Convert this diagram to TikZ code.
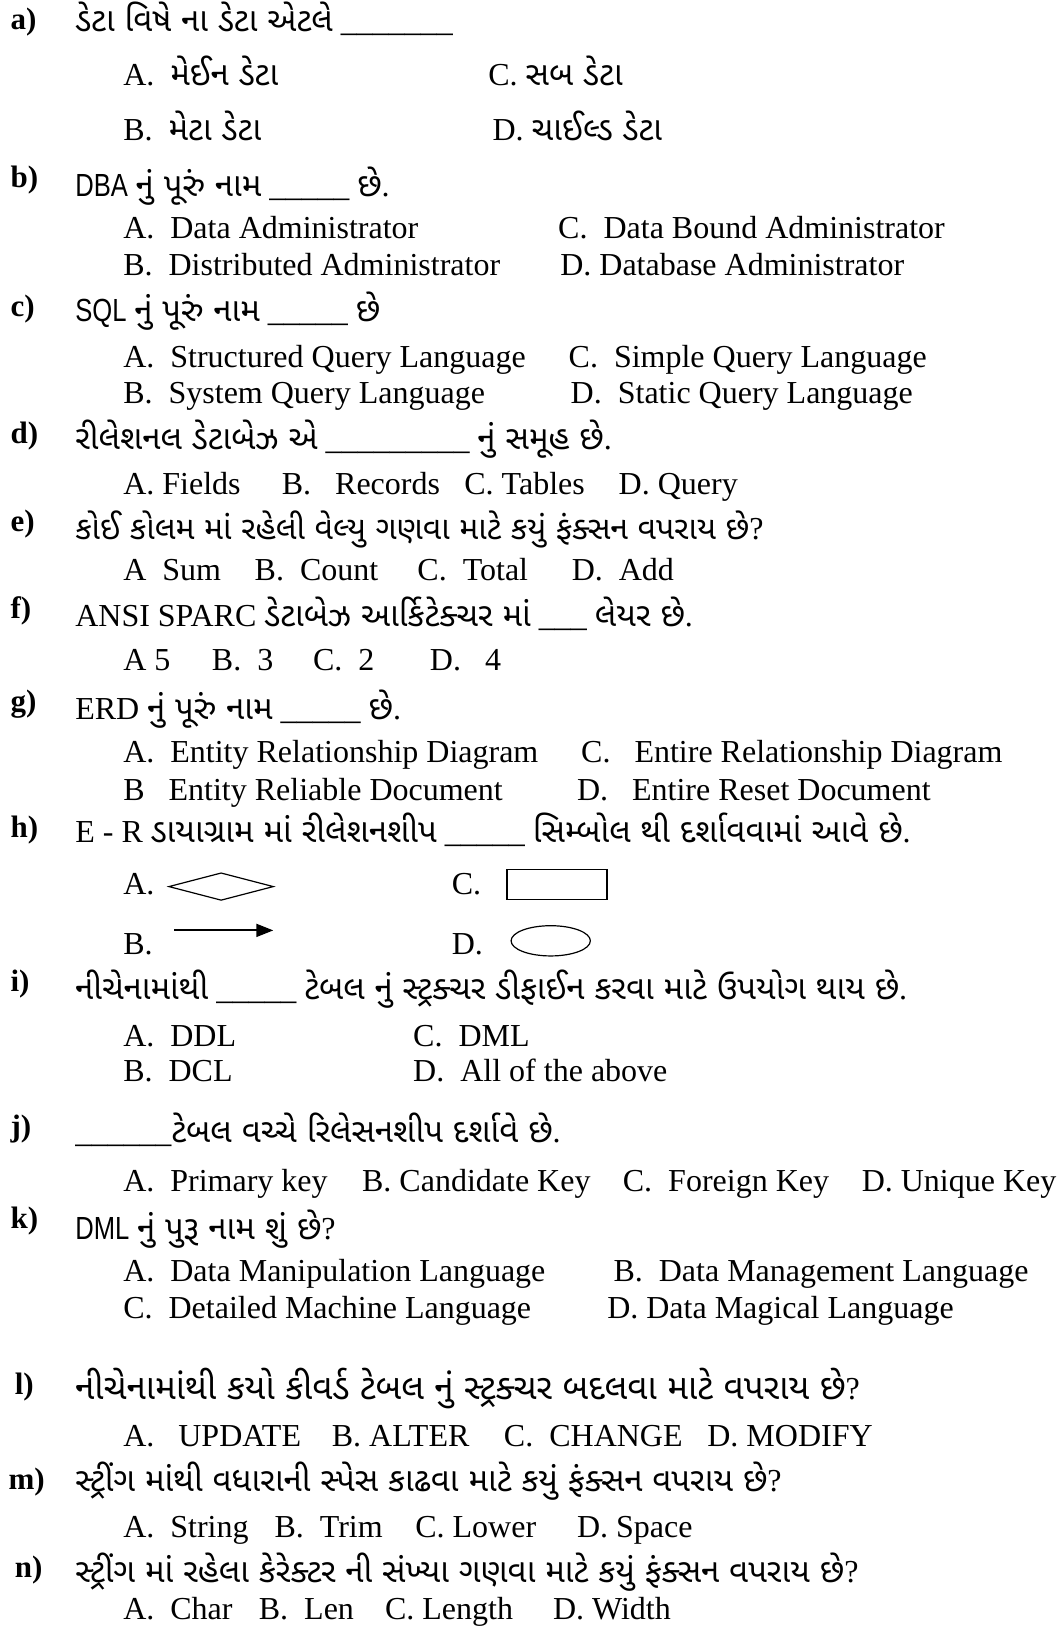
\documentclass[tikz,border=0pt]{standalone}
\usepackage{fontspec}
\usetikzlibrary{arrows.meta}
\setmainfont{Liberation Serif}
\newfontfamily\guj[Script=Gujarati]{Noto Sans Gujarati UI}
\newfontfamily\gsans{Liberation Sans}[FakeStretch=0.8]
\newcommand{\gj}[2][33]{{\guj\fontsize{#1}{#1}\selectfont #2}}
\newcommand{\gs}[1]{{\gsans #1}}
\tikzset{
	lbl/.style={anchor=base west, inner sep=0pt, font=\fontsize{31}{31}\selectfont\bfseries},
	qtxt/.style={anchor=base west, inner sep=0pt, font=\fontsize{32}{32}\selectfont},
	opt/.style={anchor=base west, inner sep=0pt, font=\fontsize{32}{32}\selectfont},
}
\begin{document}
\begin{tikzpicture}[x=1.043pt, y=-1.043pt]
	\useasboundingbox (0,0) rectangle (1016.3,1561.8);
	% a)
	\node[lbl] (la) at (10,28) {a)};
	\node[qtxt] (qa) at (72,30) {\gj{ડેટા વિષે ના ડેટા એટલે} \_\_\_\_\_\_\_};
	\node[opt] (aA) at (118,82) {A.\ \ \gj{મેઈન ડેટા}};
	\node[opt] (aC) at (468,82) {C. \gj{સબ ડેટા}};
	\node[opt] (aB) at (118,135) {B.\ \ \gj{મેટા ડેટા}};
	\node[opt] (aD) at (472,135) {D. \gj{ચાઈલ્ડ ડેટા}};
	% b)
	\node[lbl] (lb) at (10,180) {b)};
	\node[qtxt] (qb) at (72,188) {\gs{DBA} \gj{નું પૂરું નામ} \_\_\_\_\_ \gj{છે}.};
	\node[opt] (bA) at (118,229) {A.\ \ Data Administrator};
	\node[opt] (bC) at (535,229) {C.\ \ Data Bound Administrator};
	\node[opt] (bB) at (118,264) {B.\ \ Distributed Administrator};
	\node[opt] (bD) at (537,264) {D. Database Administrator};
	% c)
	\node[lbl] (lc) at (10,303) {c)};
	\node[qtxt] (qc) at (72,308) {\gs{SQL} \gj{નું પૂરું નામ} \_\_\_\_\_ \gj{છે}};
	\node[opt] (cA) at (118,352) {A.\ \ Structured Query Language};
	\node[opt] (cC) at (545,352) {C.\ \ Simple Query Language};
	\node[opt] (cB) at (118,387) {B.\ \ System Query Language};
	\node[opt] (cD) at (547,387) {D.\ \ Static Query Language};
	% d)
	\node[lbl] (ld) at (10,425) {d)};
	\node[qtxt] (qd) at (72,431) {\gj{રીલેશનલ ડેટાબેઝ એ} \_\_\_\_\_\_\_\_\_ \gj{નું સમૂહ છે}.};
	\node[opt] (dA) at (118,474) {A. Fields};
	\node[opt] (dB) at (270,474) {B.\ \ \ Records};
	\node[opt] (dC) at (445,474) {C. Tables};
	\node[opt] (dD) at (593,474) {D. Query};
	% e)
	\node[lbl] (le) at (10,510) {e)};
	\node[qtxt] (qe) at (72,517) {\gj[32]{કોઈ કોલમ માં રહેલી વેલ્યુ ગણવા માટે કયું ફંક્સન વપરાય છે}?};
	\node[opt] (eA) at (118,557) {A\ \ Sum};
	\node[opt] (eB) at (244,557) {B.\ \ Count};
	\node[opt] (eC) at (400,557) {C.\ \ Total};
	\node[opt] (eD) at (548,557) {D.\ \ Add};
	% f)
	\node[lbl] (lf) at (10,593) {f)};
	\node[qtxt] (qf) at (72,601) {ANSI SPARC \gj{ડેટાબેઝ આર્કિટેક્ચર માં} \_\_\_ \gj{લેયર છે}.};
	\node[opt] (fA) at (118,643) {A 5};
	\node[opt] (fB) at (203,643) {B.\ \ 3};
	\node[opt] (fC) at (300,643) {C.\ \ 2};
	\node[opt] (fD) at (412,643) {D.\ \ \ 4};
	% g)
	\node[lbl] (lg) at (10,682) {g)};
	\node[qtxt] (qg) at (72,690) {ERD \gj{નું પૂરું નામ} \_\_\_\_\_ \gj{છે}.};
	\node[opt] (gA) at (118,731) {A.\ \ Entity Relationship Diagram};
	\node[opt] (gC) at (557,731) {C.\ \ \ Entire Relationship Diagram};
	\node[opt] (gB) at (118,767) {B\ \ \ Entity Reliable Document};
	\node[opt] (gD) at (553,767) {D.\ \ \ Entire Reset Document};
	% h)
	\node[lbl] (lh) at (10,803) {h)};
	\node[qtxt] (qh) at (72,808) {E - R \gj{ડાયાગ્રામ માં રીલેશનશીપ} \_\_\_\_\_ \gj{સિમ્બોલ થી દર્શાવવામાં આવે છે}.};
	\node[opt] (hA) at (118,858) {A.};
	\node[opt] (hC) at (433,858) {C.};
	\node[opt] (hB) at (118,915) {B.};
	\node[opt] (hD) at (433,915) {D.};
	\draw[line width=1.2pt] (162,850) -- (212,837) -- (262,850) -- (212,863) -- cycle;
	\draw[line width=1.2pt] (486,834) rectangle (582,862);
	\draw[line width=2pt, -{Triangle[length=17pt, width=13pt]}] (167,892) -- (262,892);
	\draw[line width=1.2pt] (528,902) ellipse [x radius=38, y radius=14.5];
	% i)
	\node[lbl] (li) at (10,951) {i)};
	\node[qtxt] (qi) at (72,958) {\gj{નીચેનામાંથી} \_\_\_\_\_ \gj{ટેબલ નું સ્ટ્રક્ચર ડીફાઈન કરવા માટે ઉપયોગ થાય છે}.};
	\node[opt] (iA) at (118,1003) {A.\ \ DDL};
	\node[opt] (iC) at (396,1003) {C.\ \ DML};
	\node[opt] (iB) at (118,1037) {B.\ \ DCL};
	\node[opt] (iD) at (396,1037) {D.\ \ All of the above};
	% j)
	\node[lbl] (lj) at (10,1090) {j)};
	\node[qtxt] (qj) at (72,1095) {\_\_\_\_\_\_\gj{ટેબલ વચ્ચે રિલેસનશીપ દર્શાવે છે}.};
	\node[opt] (jA) at (118,1142) {A.\ \ Primary key};
	\node[opt] (jB) at (347,1142) {B. Candidate Key};
	\node[opt] (jC) at (597,1142) {C.\ \ Foreign Key};
	\node[opt] (jD) at (826,1142) {D. Unique Key};
	% k)
	\node[lbl] (lk) at (10,1178) {k)};
	\node[qtxt] (qk) at (72,1188) {\gs{DML} \gj{નું પુરૂ નામ શું છે}?};
	\node[opt] (kA) at (118,1229) {A.\ \ Data Manipulation Language};
	\node[opt] (kB) at (588,1229) {B.\ \ Data Management Language};
	\node[opt] (kC) at (118,1264) {C.\ \ Detailed Machine Language};
	\node[opt] (kD) at (582,1264) {D. Data Magical Language};
	% l)
	\node[lbl] (ll) at (14,1337) {l)};
	\node[qtxt] (ql) at (72,1342) {\gj[35]{નીચેનામાંથી કયો કીવર્ડ ટેબલ નું સ્ટ્રક્ચર બદલવા માટે વપરાય છે}?};
	\node[opt] (lA) at (118,1387) {A.\ \ \ UPDATE};
	\node[opt] (lB) at (318,1387) {B. ALTER};
	\node[opt] (lC) at (483,1387) {C.\ \ CHANGE};
	\node[opt] (lD) at (678,1387) {D. MODIFY};
	% m)
	\node[lbl] (lm) at (8,1428) {m)};
	\node[qtxt] (qm) at (72,1430) {\gj{સ્ટ્રીંગ માંથી વધારાની સ્પેસ કાઢવા માટે કયું ફંક્સન વપરાય છે}?};
	\node[opt] (mA) at (118,1474) {A.\ \ String};
	\node[opt] (mB) at (263,1474) {B.\ \ Trim};
	\node[opt] (mC) at (398,1474) {C. Lower};
	\node[opt] (mD) at (553,1474) {D. Space};
	% n)
	\node[lbl] (ln) at (14,1512) {n)};
	\node[qtxt] (qn) at (72,1517) {\gj{સ્ટ્રીંગ માં રહેલા કેરેક્ટર ની સંખ્યા ગણવા માટે કયું ફંક્સન વપરાય છે}?};
	\node[opt] (nA) at (118,1553) {A.\ \ Char};
	\node[opt] (nB) at (248,1553) {B.\ \ Len};
	\node[opt] (nC) at (369,1553) {C. Length};
	\node[opt] (nD) at (530,1553) {D. Width};
\end{tikzpicture}
\end{document}
